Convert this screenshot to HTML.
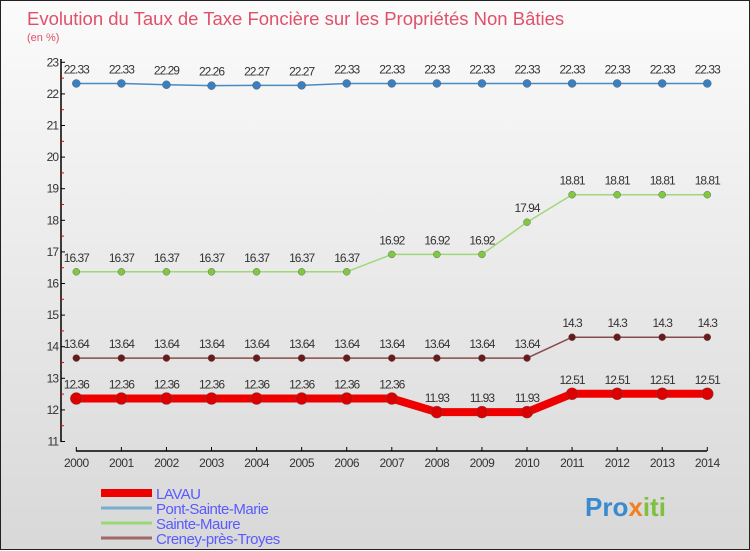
<!DOCTYPE html>
<html><head><meta charset="utf-8"><style>
body{margin:0}
#c{width:748px;height:548px;border:1px solid #222;background:linear-gradient(#fbfbfb,#d8d8d8);position:relative;font-family:"Liberation Sans",sans-serif}
svg{position:absolute;left:0;top:0}
</style></head><body>
<div id="c">
<svg id="s" width="750" height="550">
<text x="26" y="24" font-size="18.5" fill="#e0506a">Evolution du Taux de Taxe Foncière sur les Propriétés Non Bâties</text>
<text x="26" y="40" font-size="11" fill="#e0506a">(en %)</text>
</svg>
</div>
<script>
const years=[2000,2001,2002,2003,2004,2005,2006,2007,2008,2009,2010,2011,2012,2013,2014];
const yTicks=[11,12,13,14,15,16,17,18,19,20,21,22,23];
const lavau=[12.36,12.36,12.36,12.36,12.36,12.36,12.36,12.36,11.93,11.93,11.93,12.51,12.51,12.51,12.51];
const pont=[22.33,22.33,22.29,22.26,22.27,22.27,22.33,22.33,22.33,22.33,22.33,22.33,22.33,22.33,22.33];
const sainte=[16.37,16.37,16.37,16.37,16.37,16.37,16.37,16.92,16.92,16.92,17.94,18.81,18.81,18.81,18.81];
const creney=[13.64,13.64,13.64,13.64,13.64,13.64,13.64,13.64,13.64,13.64,13.64,14.3,14.3,14.3,14.3];
const labels=["LAVAU","Pont-Sainte-Marie","Sainte-Maure","Creney-près-Troyes"];
const s=document.getElementById('s');const NS='http://www.w3.org/2000/svg';
function X(i){return 75.3+i*45.07}
function Y(v){return 440.5-(v-11)*31.6}
function mk(t,a,txt,parent){const e=document.createElementNS(NS,t);for(const k in a)e.setAttribute(k,a[k]);if(txt!==undefined)e.textContent=txt;(parent||s).appendChild(e);return e}
let e=mk('line',{x1:60,y1:58,x2:60,y2:441,stroke:'#000','stroke-width':1.5});


e=mk('line',{x1:75,y1:450,x2:706,y2:450,stroke:'#000','stroke-width':1.5});


yTicks.forEach(v=>{mk('line',{x1:60,y1:Y(v),x2:64,y2:Y(v),stroke:'#000'});
 if(v<23)mk('line',{x1:60,y1:Y(v+0.5),x2:63,y2:Y(v+0.5),stroke:'#e00'});
 const t=mk('text',{x:57,y:Y(v)+4,'font-size':12,fill:'#333','text-anchor':'end','letter-spacing':'-1'},String(v));
 
 });
years.forEach((y,i)=>{mk('line',{x1:X(i),y1:446,x2:X(i),y2:450,stroke:'#000'});
 const t=mk('text',{x:X(i),y:466,'font-size':12,fill:'#333','text-anchor':'middle','letter-spacing':'-0.5'},String(y));
 
 });
function series(vals,col,w,r,name,fill){
 const p=mk('polyline',{points:vals.map((v,i)=>X(i)+','+Y(v)).join(' '),fill:'none',stroke:col,'stroke-width':w});
 
 
 vals.forEach((v,i)=>{const c=mk('circle',{cx:X(i),cy:Y(v),r:r,fill:fill,stroke:'#555','stroke-width':0.4});
  
  
  const t=mk('text',{x:X(i),y:Y(v)-10,'font-size':12,fill:'#333','text-anchor':'middle','letter-spacing':'-1'},String(v));
  
  });
}
series(pont,'#4a8ac4',1.5,4,'pont-sainte-marie','#3a7fc0');
series(sainte,'#a0d878',1.5,3.5,'sainte-maure','#80c840');
series(creney,'#8a4a4a',1.5,3.5,'creney','#6a1a1a');
series(lavau,'#ee0000',8,6,'lavau','#dd0000');
const lc=['#ee0000','#7aaed0','#98d878','#a06868'],lw=[8,3,3,3];
labels.forEach((l,i)=>{const y=492+i*15;
 const ln=mk('line',{x1:100,y1:y,x2:151,y2:y,stroke:lc[i],'stroke-width':lw[i]});
 
 
 const t=mk('text',{x:155,y:y+6,'font-size':15,fill:'#5a5aff','letter-spacing':'-0.5'},l);
 
 });
const b=mk('text',{x:584,y:515,'font-size':26,'font-weight':'bold',fill:'#3a8ad0'});


mk('tspan',{},'Pro',b);
mk('tspan',{fill:'#f08020'},'x',b);
mk('tspan',{fill:'#80c040'},'iti',b);
</script>
</body></html>
